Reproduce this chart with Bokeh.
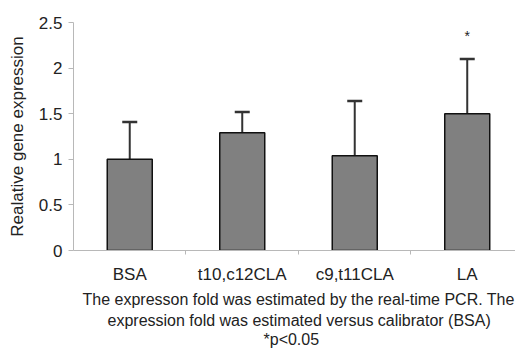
from bokeh.plotting import figure
from bokeh.models import Range1d, FixedTicker, Whisker, ColumnDataSource, TeeHead, Title
from bokeh.core.properties import value
from bokeh.embed import file_html
from bokeh.resources import INLINE

categories = ["BSA", "t10,c12CLA", "c9,t11CLA", "LA"]
means = [1.00, 1.29, 1.04, 1.50]
upper = [1.41, 1.52, 1.64, 2.10]
signif = ["", "", "", "*"]
y_ticks = [0, 0.5, 1, 1.5, 2, 2.5]
caption = [
    "The expresson fold was estimated by the real-time PCR. The",
    "expression fold was estimated versus calibrator (BSA)",
    "*p<0.05",
]

FONT = "Liberation Sans"
TXT = "#222222"
AX = "#b8b8b8"

xs = [i + 0.5 for i in range(len(categories))]
src = ColumnDataSource(dict(x=xs, top=means, upper=upper, sig=signif))

p = figure(width=515, height=349, output_backend="svg", toolbar_location=None,
           x_range=Range1d(0, 3.929), y_range=Range1d(0, 2.5),
           min_border_left=73, min_border_right=0, min_border_top=22, min_border_bottom=99)
p.outline_line_color = None
p.grid.visible = False
p.background_fill_color = "white"
p.border_fill_color = "white"

p.vbar(x="x", top="top", width=0.4, bottom=0, source=src,
       fill_color="#808080", line_color="#111111", line_width=1.5)

w = Whisker(base="x", lower="top", upper="upper", source=src,
            line_color="#333333", line_width=2,
            upper_head=TeeHead(size=15, line_color="#333333", line_width=2.5),
            lower_head=None)
p.add_layout(w)

p.text(x="x", y="upper", text="sig", source=src, text_align="center",
       text_baseline="middle", y_offset=-23, text_font=value(FONT),
       text_font_size="14px", text_color=TXT)

# y axis
ya = p.yaxis[0]
ya.ticker = FixedTicker(ticks=y_ticks)
ya.axis_label = "Realative gene expression"
ya.axis_label_text_font = FONT
ya.axis_label_text_font_size = "17px"
ya.axis_label_text_font_style = "normal"
ya.axis_label_text_color = TXT
ya.axis_label_standoff = 9
ya.major_label_text_font = FONT
ya.major_label_text_font_size = "17px"
ya.major_label_text_color = TXT
ya.major_label_standoff = 6
ya.axis_line_color = AX
ya.major_tick_line_color = AX
ya.major_tick_out = 5
ya.major_tick_in = 0
ya.minor_tick_line_color = None

# x axis
xa = p.xaxis[0]
xa.ticker = FixedTicker(ticks=xs, minor_ticks=[1, 2, 3])
xa.major_label_overrides = {x: c for x, c in zip(xs, categories)}
xa.major_label_text_font = FONT
xa.major_label_text_font_size = "17px"
xa.major_label_text_color = TXT
xa.major_label_standoff = 10
xa.axis_line_color = AX
xa.major_tick_line_color = None
xa.major_tick_out = 0
xa.major_tick_in = 0
xa.minor_tick_line_color = AX
xa.minor_tick_out = 4
xa.minor_tick_in = 0

offsets = [9, 34, 190]
standoffs = [4, 0, 0]
for line, off, so in zip(caption, offsets, standoffs):
    t = Title(text=line, align="left", offset=off, standoff=so,
              text_font=FONT, text_font_size="16px", text_font_style="normal",
              text_color=TXT)
    p.add_layout(t, "below")

open("out.html", "w").write(file_html(p, INLINE))
